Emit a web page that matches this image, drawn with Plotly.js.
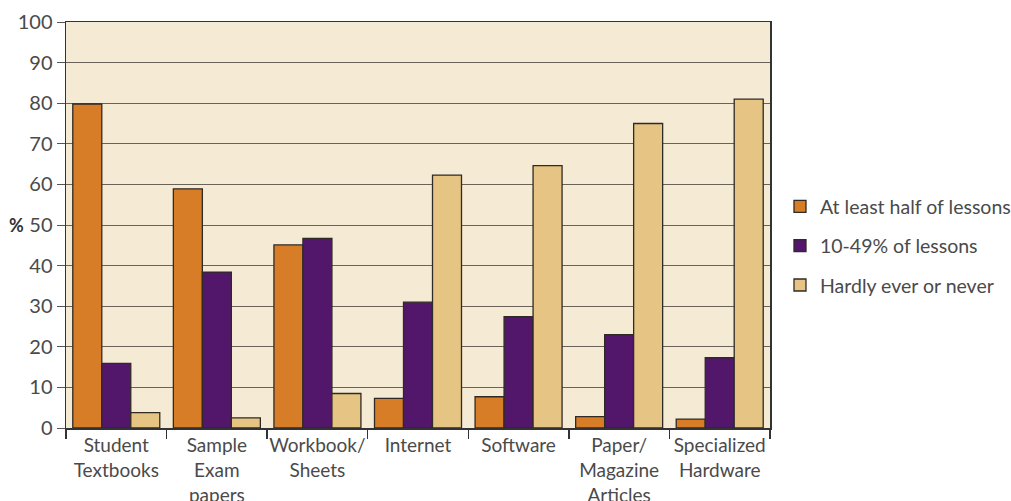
<!DOCTYPE html>
<html><head><meta charset="utf-8">
<script src="https://cdn.plot.ly/plotly-3.0.1.min.js"></script>
<style>html,body{margin:0;padding:0;background:#fff}</style>
</head><body>
<div id="chart" style="width:1011px;height:501px"></div>
<script>
const categories = ["Student<br>Textbooks", "Sample<br>Exam<br>papers", "Workbook/<br>Sheets", "Internet", "Software", "Paper/<br>Magazine<br>Articles", "Specialized<br>Hardware"];
const seriesNames = ["At least half of lessons", "10-49% of lessons", "Hardly ever or never"];
const atLeastHalf = [79.8, 58.9, 45.1, 7.3, 7.7, 2.8, 2.2];
const tenTo49 = [15.9, 38.4, 46.7, 31.0, 27.4, 23.0, 17.3];
const hardlyEver = [3.8, 2.5, 8.5, 62.3, 64.6, 75.0, 81.0];
const colors = ["#D77D28", "#52166B", "#E6C584"];

const seriesData = [atLeastHalf, tenTo49, hardlyEver];
const traces = seriesData.map((vals, i) => ({
  type: "bar",
  name: seriesNames[i],
  x: categories,
  y: vals,
  legendgroup: "g" + i,
  marker: {color: colors[i], line: {color: "#2f2a26", width: 1.3}},
  hoverinfo: "x+y"
}));

const textColor = "#4a4a4a";
const fontFam = "Lato, Open Sans, sans-serif";
const layout = {
  width: 1011, height: 501,
  margin: {l: 66, r: 241, t: 22, b: 73},
  paper_bgcolor: "#ffffff",
  plot_bgcolor: "#F5EBD5",
  barmode: "group",
  bargap: 0.135,
  bargroupgap: 0,
  font: {family: fontFam, color: textColor, size: 19},
  xaxis: {
    type: "category",
    tickson: "boundaries",
    tickangle: 0,
    ticks: "outside", ticklen: 9, tickcolor: "#333", tickwidth: 1.5,
    showline: true, linecolor: "#333", linewidth: 1.5, mirror: true,
    showgrid: false,
    tickfont: {family: fontFam, size: 19, color: textColor},
    automargin: false
  },
  yaxis: {
    range: [0, 100], dtick: 10,
    ticks: "outside", ticklen: 8, tickcolor: "#555", tickwidth: 1,
    showline: true, linecolor: "#333", linewidth: 1.5, mirror: true,
    gridcolor: "#6a6259", gridwidth: 1,
    zeroline: false,
    tickfont: {family: fontFam, size: 20, color: textColor},
    automargin: false
  },
  annotations: [{
    text: "<b>%</b>", xref: "paper", yref: "paper",
    x: -0.07, y: 0.5, xanchor: "center", yanchor: "middle",
    showarrow: false, font: {family: fontFam, size: 18, color: "#333"}
  }],
  legend: {
    xref: "container", x: 0.7715, y: 0.448, xanchor: "left", yanchor: "middle",
    font: {family: fontFam, size: 19.5, color: textColor},
    traceorder: "grouped",
    tracegroupgap: 11,
    bgcolor: "rgba(0,0,0,0)"
  },
  showlegend: true
};

Plotly.newPlot("chart", traces, layout, {displayModeBar: false, staticPlot: true});
</script>
</body></html>
